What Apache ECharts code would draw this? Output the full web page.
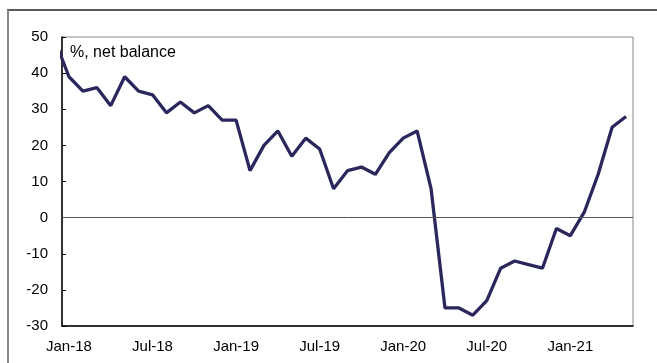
<!DOCTYPE html>
<html>
<head>
<meta charset="utf-8">
<script src="https://cdn.jsdelivr.net/npm/echarts@6/dist/echarts.min.js"></script>
<style>
  html, body { margin: 0; padding: 0; background: #fff; }
  #main { width: 657px; height: 363px; }
</style>
</head>
<body>
<div id="main"></div>
<script>
// monthly survey balance, Dec-17 is only there so the line runs in from the left edge
var months = ['Dec-17',
    'Jan-18', 'Feb-18', 'Mar-18', 'Apr-18', 'May-18', 'Jun-18', 'Jul-18', 'Aug-18', 'Sep-18', 'Oct-18', 'Nov-18', 'Dec-18',
    'Jan-19', 'Feb-19', 'Mar-19', 'Apr-19', 'May-19', 'Jun-19', 'Jul-19', 'Aug-19', 'Sep-19', 'Oct-19', 'Nov-19', 'Dec-19',
    'Jan-20', 'Feb-20', 'Mar-20', 'Apr-20', 'May-20', 'Jun-20', 'Jul-20', 'Aug-20', 'Sep-20', 'Oct-20', 'Nov-20', 'Dec-20',
    'Jan-21', 'Feb-21', 'Mar-21', 'Apr-21', 'May-21'];
var balance = [49,
    39, 35, 36, 31, 39, 35, 34, 29, 32, 29, 31, 27,
    27, 13, 20, 24, 17, 22, 19, 8, 13, 14, 12, 18,
    22, 24, 8, -25, -25, -27, -23, -14, -12, -13, -14, -3,
    -5, 1.5, 12, 25, 28];
var tickMonths = ['Jan-18', 'Jul-18', 'Jan-19', 'Jul-19', 'Jan-20', 'Jul-20', 'Jan-21'];

// x position = months since Jan-18
var seriesData = months.map(function (m, i) { return [i - 1, balance[i]]; });
var tickPos = tickMonths.map(function (m) { return months.indexOf(m) - 1; });

var myChart = echarts.init(document.getElementById('main'));

myChart.setOption({
    animation: false,
    textStyle: { fontFamily: 'Liberation Sans, Arial, sans-serif' },
    title: {
        text: '%, net balance',
        left: 65,
        top: 40,
        textStyle: { fontSize: 16, fontWeight: 'normal', color: '#000' }
    },
    grid: {
        left: 62,
        right: 24,
        top: 37,
        bottom: 37,
        show: true,
        borderColor: '#888',
        borderWidth: 1,
        containLabel: false
    },
    xAxis: {
        type: 'value',
        min: -0.5,
        max: months.length - 1.5,
        axisLine: { onZero: false, lineStyle: { color: '#000', width: 1.5 } },
        axisTick: { show: false },
        splitLine: { show: false },
        axisLabel: {
            customValues: tickPos,
            margin: 13,
            fontSize: 15,
            color: '#000',
            formatter: function (v) { return months[Math.round(v) + 1]; }
        }
    },
    yAxis: {
        type: 'value',
        min: -30,
        max: 50,
        interval: 10,
        axisLine: { show: true, onZero: false, lineStyle: { color: '#000', width: 1.5 } },
        axisTick: { show: true, inside: true, length: 4, lineStyle: { color: '#000' } },
        splitLine: { show: false },
        axisLabel: { margin: 14, fontSize: 15, color: '#000' }
    },
    series: [{
        type: 'line',
        data: seriesData,
        symbol: 'none',
        clip: true,
        lineStyle: { color: '#2a275c', width: 3.3 },
        markLine: {
            silent: true,
            symbol: 'none',
            label: { show: false },
            lineStyle: { color: '#555', width: 1, type: 'solid' },
            data: [{ yAxis: 0 }]
        }
    }],
    graphic: [
        { type: 'line', shape: { x1: 7, y1: 10, x2: 657, y2: 10 }, style: { stroke: '#222', lineWidth: 1.5 } },
        { type: 'line', shape: { x1: 8, y1: 10, x2: 8, y2: 363 }, style: { stroke: '#888', lineWidth: 2 } }
    ]
});

window.addEventListener('resize', function () {
    myChart.resize();
});
</script>
</body>
</html>
